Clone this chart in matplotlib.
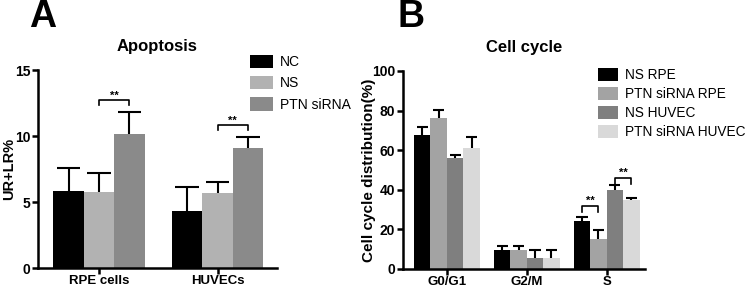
import matplotlib
matplotlib.use("Agg")
import matplotlib.pyplot as plt
import numpy as np

plt.rcParams['font.family'] = ['Liberation Sans', 'DejaVu Sans']

# Panel A data
a_groups = ["RPE cells", "HUVECs"]
a_series = ["NC", "NS", "PTN siRNA"]
a_means = [[5.83, 4.3], [5.74, 5.65], [10.15, 9.1]]
a_errs = [[1.74, 1.85], [1.46, 0.85], [1.65, 0.8]]
a_colors = ["#000000", "#b2b2b2", "#8a8a8a"]
a_yticks = [0, 5, 10, 15]

# Panel B data
b_groups = ["G0/G1", "G2/M", "S"]
b_series = ["NS RPE", "PTN siRNA RPE", "NS HUVEC", "PTN siRNA HUVEC"]
b_means = [[67.6, 9.7, 24.3], [76.3, 9.7, 15.3], [56.2, 5.5, 39.9], [61.2, 5.5, 34.9]]
b_errs = [[4.2, 2.0, 2.2], [3.9, 2.0, 4.5], [1.3, 4.2, 2.5], [5.6, 4.2, 0.8]]
b_colors = ["#000000", "#a3a3a3", "#7f7f7f", "#d9d9d9"]
b_yticks = [0, 20, 40, 60, 80, 100]

W, H = 749, 288
fig = plt.figure(figsize=(W/100, H/100), dpi=100)

def px_ax(l, r, t, b):
    return fig.add_axes([l/W, 1-b/H, (r-l)/W, (b-t)/H])

def style(ax, xfs, yfs):
    for s in ['top', 'right']:
        ax.spines[s].set_visible(False)
    for s in ['left', 'bottom']:
        ax.spines[s].set_linewidth(1.8)
    ax.tick_params(width=1.8, length=4, pad=1.5)
    ax.tick_params(axis='x', labelsize=xfs, pad=1)
    ax.tick_params(axis='y', labelsize=yfs)
    for lab in ax.get_xticklabels() + ax.get_yticklabels():
        lab.set_fontweight('bold')

def upper_err(ax, pos, m, e, capw):
    tops = np.asarray(m) + np.asarray(e)
    ax.vlines(pos, m, tops, color='black', lw=1.5)
    ax.hlines(tops, pos - capw/2, pos + capw/2, color='black', lw=1.5)

def bracket(ax, x1, x2, y, d, text):
    ax.plot([x1, x1, x2, x2], [y-d, y, y, y-d], color='black', lw=1.2, clip_on=False)
    ax.text((x1+x2)/2, y, text, ha='center', va='bottom', fontsize=8, fontweight='bold')

# Panel A
axA = px_ax(38, 277, 70, 268)
wA = 0.257
xA = np.arange(len(a_groups))
handlesA = []
for i, (m, e, c) in enumerate(zip(a_means, a_errs, a_colors)):
    pos = xA + (i-1)*wA
    h = axA.bar(pos, m, wA, color=c, label=a_series[i])
    upper_err(axA, pos, m, e, 0.2)
    handlesA.append(h)
axA.set_xlim(-0.515, 1.502)
axA.set_ylim(0, 15)
axA.set_yticks(a_yticks)
axA.set_xticks(xA)
axA.set_xticklabels(a_groups)
axA.set_ylabel("UR+LR%", fontsize=10.5, fontweight='bold')
axA.yaxis.set_label_coords((16-38)/239, 0.5)
axA.set_title("Apoptosis", fontsize=12, fontweight='bold', pad=14)
style(axA, 9.5, 10)
bracket(axA, xA[0], xA[0]+wA, 12.7, 0.35, "**")
bracket(axA, xA[1], xA[1]+wA, 10.8, 0.35, "**")
axA.legend(handles=handlesA, loc='upper left', bbox_to_anchor=(238/W, 1-42/H),
           bbox_transform=fig.transFigure, frameon=False, fontsize=10,
           handlelength=1.65, handleheight=1.1, labelspacing=0.5, handletextpad=0.5)

# Panel B
axB = px_ax(403, 645, 71, 269)
wB = 0.206
xB = np.arange(len(b_groups))
handlesB = []
for i, (m, e, c) in enumerate(zip(b_means, b_errs, b_colors)):
    pos = xB + (i-1.5)*wB
    h = axB.bar(pos, m, wB, color=c, label=b_series[i])
    upper_err(axB, pos, m, e, 0.14)
    handlesB.append(h)
axB.set_xlim(-0.55, 2.48)
axB.set_ylim(0, 100)
axB.set_yticks(b_yticks)
axB.set_xticks(xB)
axB.set_xticklabels(b_groups)
axB.set_ylabel("Cell cycle distribution(%)", fontsize=11, fontweight='bold')
axB.yaxis.set_label_coords((376-403)/242, 0.5)
axB.set_title("Cell cycle", fontsize=12, fontweight='bold', pad=14)
style(axB, 9.5, 10)
bracket(axB, xB[2]-1.5*wB, xB[2]-0.5*wB, 31.8, 3, "**")
bracket(axB, xB[2]+0.5*wB, xB[2]+1.5*wB, 46, 3, "**")
axB.legend(handles=handlesB, loc='upper left', bbox_to_anchor=(586/W, 1-56/H),
           bbox_transform=fig.transFigure, frameon=False, fontsize=9.8,
           handlelength=1.45, handleheight=1.1, labelspacing=0.35, handletextpad=0.5)

fig.text(43/W, 1-27/H, "A", fontsize=27, fontweight='bold', va='baseline', ha='center')
fig.text(411/W, 1-27/H, "B", fontsize=27, fontweight='bold', va='baseline', ha='center')

fig.savefig("out.png", dpi=100)
